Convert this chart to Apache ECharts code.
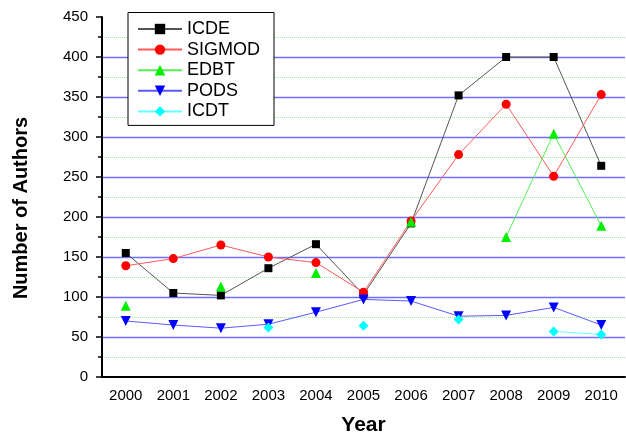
<!DOCTYPE html>
<html>
<head>
<meta charset="utf-8">
<script src="https://cdn.jsdelivr.net/npm/echarts@6/dist/echarts.min.js"></script>
<style>
html,body{margin:0;padding:0;background:#fff;}
#chart{width:626px;height:441px;}
</style>
</head>
<body>
<div id="chart"></div>
<script>
const years = ['2000','2001','2002','2003','2004','2005','2006','2007','2008','2009','2010'];
const icde   = [155, 105, 102, 136, 166, 103, 192, 352, 400, 400, 264];
const sigmod = [139, 148, 165, 150, 143, 106, 195, 278, 341, 251, 353];
const edbt   = [89, null, 113, null, 130, null, 194, null, 175, 304, 189];
const pods   = [70, 65, 61, 66, 81, 97, 95, 76, 77, 87, 65];
const icdt   = [null, null, null, 62, null, 64, null, 72, null, 57, 53];

const chart = echarts.init(document.getElementById('chart'), null, {renderer: 'canvas'});

function mk(name, data, symbol, size, color, lineColor, rotate) {
  return {
    name: name, type: 'line', data: data,
    symbol: symbol, symbolSize: size, symbolRotate: rotate || 0,
    showAllSymbol: true, connectNulls: false, animation: false,
    itemStyle: {color: color},
    lineStyle: {color: lineColor, width: 1},
    emphasis: {disabled: true}
  };
}

chart.setOption({
  backgroundColor: '#ffffff',
  animation: false,
  grid: {left: 102, right: 1, top: 17, bottom: 62},
  legend: {
    left: 128, top: 12.5,
    orient: 'vertical',
    backgroundColor: '#ffffff',
    borderColor: '#000000', borderWidth: 1,
    padding: [7.5, 14, 5, 9],
    itemWidth: 44, itemHeight: 13, itemGap: 2.6,
    textStyle: {fontFamily: 'Liberation Sans, Arial, sans-serif', fontSize: 18, lineHeight: 18, color: '#000'},
    data: ['ICDE','SIGMOD','EDBT','PODS','ICDT']
  },
  xAxis: {
    type: 'category', data: years, boundaryGap: true,
    name: 'Year', nameLocation: 'middle', nameGap: 38,
    nameTextStyle: {fontFamily: 'Liberation Sans, Arial, sans-serif', fontSize: 21, fontWeight: 'bold', color: '#000'},
    axisLine: {lineStyle: {color: '#000', width: 2}},
    axisTick: {alignWithLabel: true, length: 6, lineStyle: {color: '#000', width: 1.5}},
    axisLabel: {margin: 11, fontFamily: 'Liberation Sans, Arial, sans-serif', fontSize: 15, color: '#000'},
    splitLine: {show: false}
  },
  yAxis: {
    type: 'value', min: 0, max: 450, interval: 50,
    name: 'Number of Authors', nameLocation: 'middle', nameGap: 71, nameRotate: 90,
    nameTextStyle: {fontFamily: 'Liberation Sans, Arial, sans-serif', fontSize: 20, fontWeight: 'bold', color: '#000', padding: [0, 22, 0, 0]},
    axisLine: {show: true, lineStyle: {color: '#000', width: 2}},
    axisTick: {show: true, length: 6, lineStyle: {color: '#000', width: 1.5}},
    minorTick: {show: true, splitNumber: 2, length: 4, lineStyle: {color: '#000', width: 1.5}},
    axisLabel: {margin: 14, fontFamily: 'Liberation Sans, Arial, sans-serif', fontSize: 15, color: '#000'},
    splitLine: {show: true, showMaxLine: false, showMinLine: false, lineStyle: {color: '#7070ff', width: 1.3, type: 'solid'}},
    minorSplitLine: {show: true, lineStyle: {color: '#a0eaa0', width: 1, type: 'dotted'}}
  },
  series: [
    mk('ICDE', icde, 'rect', 8, '#000000', '#555555'),
    mk('SIGMOD', sigmod, 'circle', 9, '#ff0000', '#ff5a5a'),
    mk('EDBT', edbt, 'triangle', 10, '#00ee00', '#55ee55'),
    mk('PODS', pods, 'triangle', 10, '#0000ff', '#5a5aff', 180),
    mk('ICDT', icdt, 'diamond', 10, '#00ffff', '#66ffff')
  ]
});
</script>
</body>
</html>
